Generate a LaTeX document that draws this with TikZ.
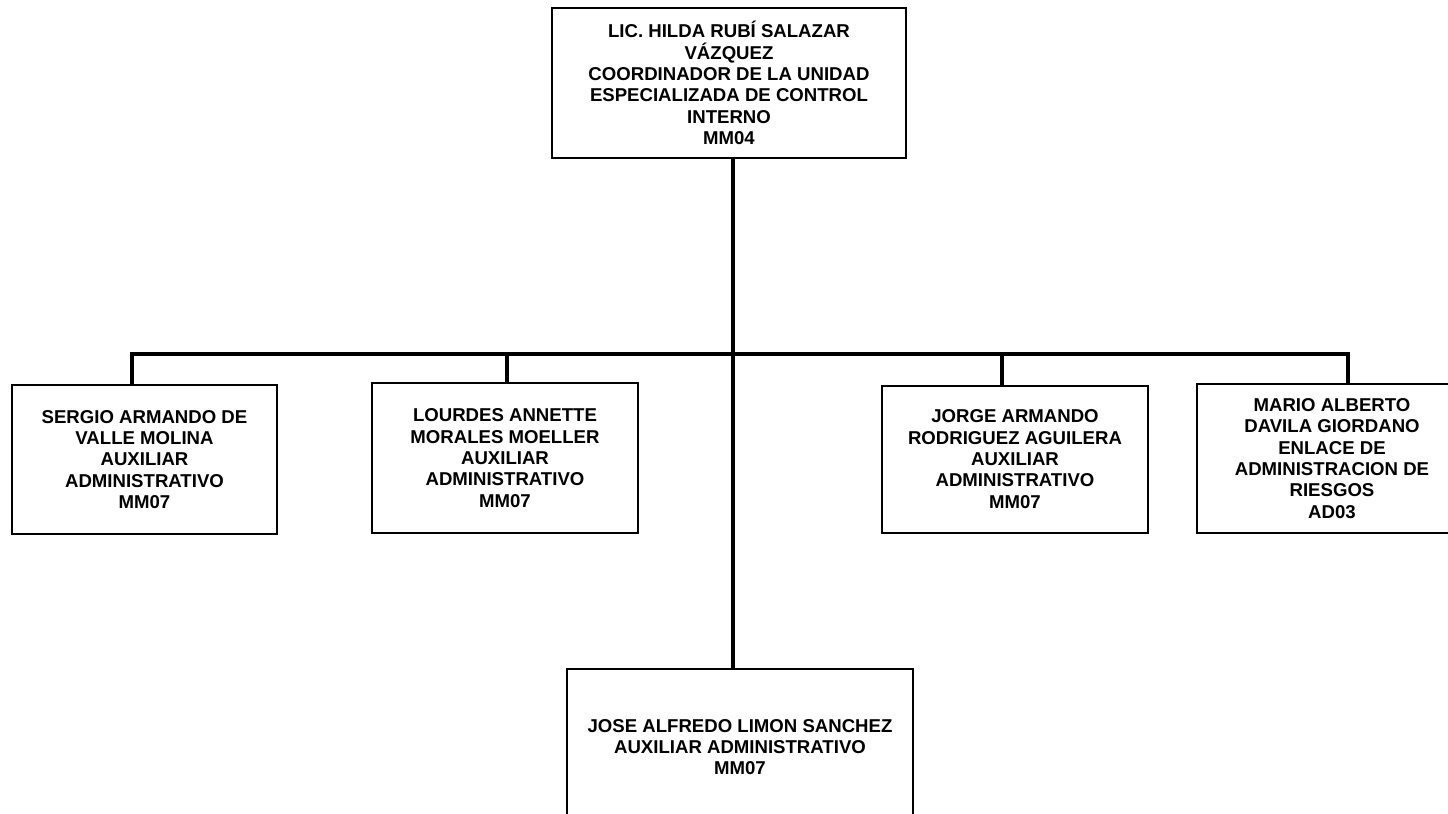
\documentclass[tikz,border=0pt]{standalone}
\usepackage{fontspec}
\setmainfont{Liberation Sans}
\tikzset{
    puesto/.style={draw, line width=1pt, align=center, inner sep=2pt, font=\bfseries\fontsize{9.3}{10.65}\selectfont},
    linea/.style={line width=1.6pt}
}
\begin{document}
\begin{tikzpicture}[x=0.5pt,y=-0.5pt]
    \useasboundingbox (0,0) rectangle (1448,814);
    \node[puesto, minimum width=177pt, minimum height=75pt] (coord) at (729,83) {LIC. HILDA RUBÍ SALAZAR\\VÁZQUEZ\\COORDINADOR DE LA UNIDAD\\ESPECIALIZADA DE CONTROL\\INTERNO\\MM04};
    \node[puesto, minimum width=132.5pt, minimum height=74.5pt] (sergio) at (144.5,459.5) {SERGIO ARMANDO DE\\VALLE MOLINA\\AUXILIAR\\ADMINISTRATIVO\\MM07};
    \node[puesto, minimum width=133pt, minimum height=75pt] (lourdes) at (505,458) {LOURDES ANNETTE\\MORALES MOELLER\\AUXILIAR\\ADMINISTRATIVO\\MM07};
    \node[puesto, minimum width=133pt, minimum height=73.5pt] (jorge) at (1015,459) {JORGE ARMANDO\\RODRIGUEZ AGUILERA\\AUXILIAR\\ADMINISTRATIVO\\MM07};
    \node[puesto, minimum width=135pt, minimum height=74.5pt] (mario) at (1332,458.5) {MARIO ALBERTO\\DAVILA GIORDANO\\ENLACE DE\\ADMINISTRACION DE\\RIESGOS\\AD03};
    \node[puesto, minimum width=173pt, minimum height=78pt] (jose) at (740,747) {JOSE ALFREDO LIMON SANCHEZ\\AUXILIAR ADMINISTRATIVO\\MM07};
    \coordinate (tronco) at (733,354);
    \draw[linea] (tronco |- coord.south) -- (tronco |- jose.north);
    \draw[linea] ([xshift=-6.25pt]sergio.north) -- ([xshift=-6.25pt]sergio.north |- tronco) -| ([xshift=8pt]mario.north);
    \draw[linea] ([xshift=1pt]lourdes.north) -- ([xshift=1pt]lourdes.north |- tronco);
    \draw[linea] ([xshift=-6.5pt]jorge.north) -- ([xshift=-6.5pt]jorge.north |- tronco);
\end{tikzpicture}
\end{document}
